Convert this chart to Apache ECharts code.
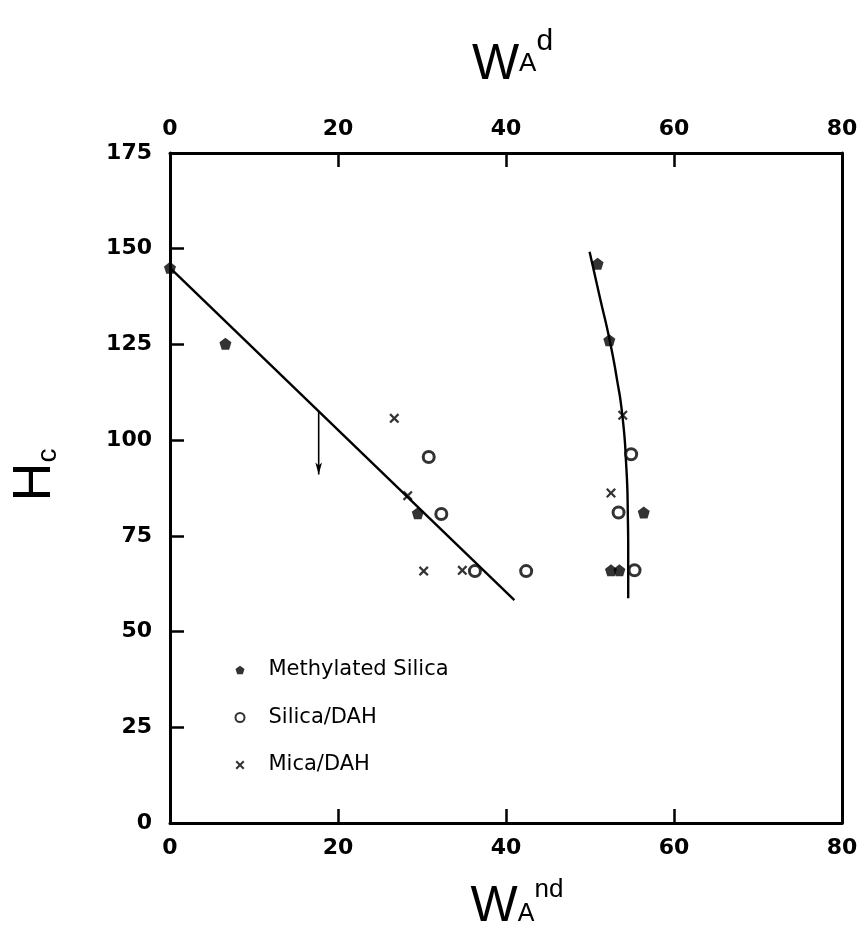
<!DOCTYPE html>
<html>
<head>
<meta charset="utf-8">
<script src="https://cdn.jsdelivr.net/npm/echarts@6/dist/echarts.min.js"></script>
<style>
  html, body { margin: 0; padding: 0; background: #fff; }
  #chart { width: 864px; height: 941px; }
</style>
</head>
<body>
<div id="chart"></div>
<script>
// Axis ranges and tick steps
const xTicks = [0, 20, 40, 60, 80];
const yTicks = [0, 25, 50, 75, 100, 125, 150, 175];

// Measured points: [W_A, H_c]
const methylatedSilica = [[0, 145], [6.6, 125.2], [29.5, 80.9], [50.9, 146.1], [52.3, 126.1], [56.4, 81.1], [52.5, 66], [53.5, 66]];
const silicaDAH = [[30.8, 95.6], [32.3, 80.7], [36.3, 65.8], [42.4, 65.8], [54.9, 96.3], [53.4, 81.1], [55.3, 66]];
const micaDAH = [[26.7, 105.7], [28.3, 85.5], [30.2, 65.8], [34.8, 66], [53.9, 106.5], [52.5, 86.2]];

// Guide lines drawn through the two groups
const fitLine = [[0, 145], [41, 58.2]];
const fitCurve = [[49.95, 149.2], [51.15, 137.5], [52.34, 126.1], [53.2, 116], [53.85, 106.5], [54.3, 93.9], [54.5, 80.9], [54.55, 69], [54.55, 58.7]];
const arrowLine = [[17.7, 107.5], [17.7, 91]];

const seriesNames = ['Methylated Silica', 'Silica/DAH', 'Mica/DAH'];

const pentagon = 'path://M0,-10 L9.5,-3.1 L5.9,8.1 L-5.9,8.1 L-9.5,-3.1 Z';
const cross = 'path://M-5,-3.4 L-3.4,-5 L0,-1.6 L3.4,-5 L5,-3.4 L1.6,0 L5,3.4 L3.4,5 L0,1.6 L-3.4,5 L-5,3.4 L-1.6,0 Z';

const tickFont = { fontFamily: 'DejaVu Sans', fontWeight: 'bold', fontSize: 22, color: '#000' };
const titleFont = 'Liberation Sans, sans-serif';

const xStep = xTicks[1] - xTicks[0];
const yStep = yTicks[1] - yTicks[0];
const xMin = xTicks[0], xMax = xTicks[xTicks.length - 1];
const yMin = yTicks[0], yMax = yTicks[yTicks.length - 1];

const axisLine = { show: true, onZero: false, lineStyle: { color: '#000', width: 3 } };
const innerTick = { show: true, inside: true, length: 14, lineStyle: { color: '#000', width: 2.5 } };

const chart = echarts.init(document.getElementById('chart'), null, { renderer: 'canvas' });

chart.setOption({
  backgroundColor: '#fff',
  animation: false,
  grid: { left: 170, right: 22, top: 153, bottom: 118, containLabel: false },
  legend: {
    data: seriesNames,
    orient: 'vertical',
    left: 234.5,
    top: 651,
    padding: 0,
    itemWidth: 9,
    itemHeight: 9,
    itemGap: 9.5,
    selectedMode: false,
    textStyle: { fontFamily: 'DejaVu Sans', fontSize: 21, lineHeight: 22, color: '#000', padding: [0, 0, 16, 19] }
  },
  xAxis: [
    {
      type: 'value', position: 'bottom', min: xMin, max: xMax, interval: xStep,
      axisLine: axisLine,
      axisTick: innerTick,
      axisLabel: Object.assign({ margin: 14, showMinLabel: true, showMaxLabel: true }, tickFont),
      splitLine: { show: false },
      name: '{w|W}{a|A}{s|nd}',
      nameLocation: 'middle',
      nameGap: 54,
      nameTextStyle: {
        color: '#000',
        rich: {
          w: { fontFamily: titleFont, fontSize: 50, lineHeight: 50, verticalAlign: 'top', padding: [5, 0, 2, 22], color: '#000' },
          a: { fontFamily: titleFont, fontSize: 25, lineHeight: 25, verticalAlign: 'bottom', color: '#000' },
          s: { fontFamily: titleFont, fontSize: 26, lineHeight: 26, verticalAlign: 'top', color: '#000' }
        }
      }
    },
    {
      type: 'value', position: 'top', min: xMin, max: xMax, interval: xStep,
      axisLine: axisLine,
      axisTick: innerTick,
      axisLabel: Object.assign({ margin: 13, showMinLabel: true, showMaxLabel: true }, tickFont),
      splitLine: { show: false },
      name: '{w|W}{a|A}{s|d}',
      nameLocation: 'middle',
      nameGap: 76,
      nameTextStyle: {
        color: '#000',
        rich: {
          w: { fontFamily: titleFont, fontSize: 50, lineHeight: 50, verticalAlign: 'top', padding: [13, 0, 6, 13], color: '#000' },
          a: { fontFamily: titleFont, fontSize: 26, lineHeight: 26, verticalAlign: 'bottom', color: '#000' },
          s: { fontFamily: titleFont, fontSize: 30, lineHeight: 30, verticalAlign: 'top', color: '#000' }
        }
      }
    }
  ],
  yAxis: [
    {
      type: 'value', position: 'left', min: yMin, max: yMax, interval: yStep,
      axisLine: axisLine,
      axisTick: innerTick,
      axisLabel: Object.assign({ margin: 18, showMinLabel: true, showMaxLabel: true }, tickFont),
      splitLine: { show: false },
      name: '{h|H}{c|c}',
      nameLocation: 'middle',
      nameRotate: 90,
      nameGap: 108,
      nameTextStyle: {
        color: '#000',
        rich: {
          h: { fontFamily: titleFont, fontSize: 54, lineHeight: 54, verticalAlign: 'top', padding: [0, 0, 8, 26], color: '#000' },
          c: { fontFamily: titleFont, fontSize: 28, lineHeight: 28, verticalAlign: 'bottom', color: '#000' }
        }
      }
    },
    {
      type: 'value', position: 'right', min: yMin, max: yMax, interval: yStep,
      axisLine: axisLine,
      axisTick: { show: false },
      axisLabel: { show: false },
      splitLine: { show: false }
    }
  ],
  series: [
    {
      type: 'line', data: fitLine, showSymbol: false, silent: true, z: 1,
      lineStyle: { color: '#000', width: 2.4 }
    },
    {
      type: 'line', data: fitCurve, showSymbol: false, silent: true, z: 1, smooth: 0.6,
      lineStyle: { color: '#000', width: 2.4 }
    },
    {
      type: 'line', silent: true, z: 1,
      data: [
        { value: arrowLine[0], symbol: 'none' },
        { value: arrowLine[1], symbol: 'arrow', symbolSize: [5, 12], symbolRotate: 180 }
      ],
      showAllSymbol: true,
      lineStyle: { color: '#000', width: 1.6 },
      itemStyle: { color: '#000' }
    },
    {
      name: seriesNames[0], type: 'scatter', data: methylatedSilica, z: 3,
      symbol: pentagon, symbolSize: 12,
      itemStyle: { color: '#000' }
    },
    {
      name: seriesNames[1], type: 'scatter', data: silicaDAH, z: 3,
      symbol: 'circle', symbolSize: 11,
      itemStyle: { color: '#fff', borderColor: '#000', borderWidth: 3 }
    },
    {
      name: seriesNames[2], type: 'scatter', data: micaDAH, z: 3,
      symbol: cross, symbolSize: 10,
      itemStyle: { color: '#000' }
    }
  ]
});
</script>
</body>
</html>
